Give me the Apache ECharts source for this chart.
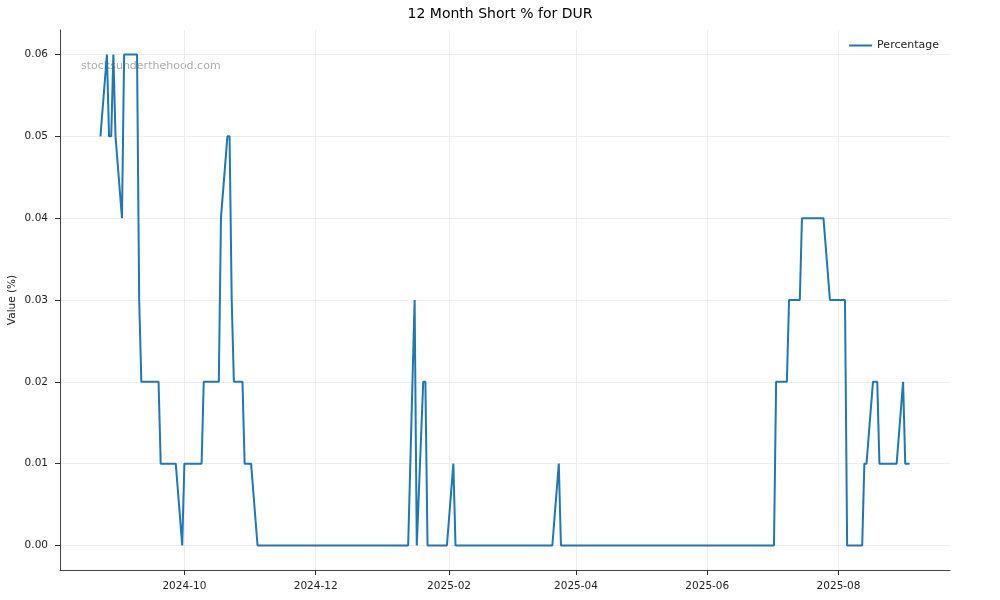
<!DOCTYPE html>
<html>
<head>
<meta charset="utf-8">
<script src="https://cdn.jsdelivr.net/npm/echarts@6/dist/echarts.min.js"></script>
<style>
html,body{margin:0;padding:0;background:#fff;}
#chart{width:1000px;height:600px;}
</style>
</head>
<body>
<div id="chart"></div>
<script>
const dates = ['2024-08-23','2024-08-26','2024-08-27','2024-08-28','2024-08-29','2024-08-30','2024-09-02','2024-09-03','2024-09-09','2024-09-10','2024-09-11','2024-09-19','2024-09-20','2024-09-27','2024-09-30','2024-10-01','2024-10-09','2024-10-10','2024-10-17','2024-10-18','2024-10-21','2024-10-22','2024-10-23','2024-10-24','2024-10-28','2024-10-29','2024-11-01','2024-11-04','2025-01-13','2025-01-16','2025-01-17','2025-01-20','2025-01-21','2025-01-22','2025-01-31','2025-02-03','2025-02-04','2025-03-21','2025-03-24','2025-03-25','2025-07-02','2025-07-03','2025-07-08','2025-07-09','2025-07-14','2025-07-15','2025-07-25','2025-07-28','2025-08-04','2025-08-05','2025-08-12','2025-08-13','2025-08-14','2025-08-17','2025-08-19','2025-08-20','2025-08-28','2025-08-31','2025-09-01','2025-09-03'];
const percentage = [0.05,0.06,0.05,0.05,0.06,0.05,0.04,0.06,0.06,0.03,0.02,0.02,0.01,0.01,0,0.01,0.01,0.02,0.02,0.04,0.05,0.05,0.03,0.02,0.02,0.01,0.01,0,0,0.03,0,0.02,0.02,0,0,0.01,0,0,0.01,0,0,0.02,0.02,0.03,0.03,0.04,0.04,0.03,0.03,0,0,0.01,0.01,0.02,0.02,0.01,0.01,0.02,0.01,0.01];
const xTickLabels = ['2024-10','2024-12','2025-02','2025-04','2025-06','2025-08'];
const yTickValues = [0,0.01,0.02,0.03,0.04,0.05,0.06];

function ts(s){ const p = s.split('-').map(Number); return Date.UTC(p[0], p[1]-1, p[2] || 1); }
const t0 = ts(dates[0]), t1 = ts(dates[dates.length-1]);
const pad = (t1 - t0) * 0.05;
const seriesData = dates.map((d,i)=>[ts(d), percentage[i]]);
const xTicks = xTickLabels.map(ts);

const chart = echarts.init(document.getElementById('chart'), null, {renderer:'canvas'});
const font = 'DejaVu Sans';
chart.setOption({
  animation: false,
  backgroundColor: '#ffffff',
  title: {
    text: '12 Month Short % for DUR',
    left: 'center', top: 2,
    textStyle: {fontFamily: font, fontSize: 14, fontWeight: 'normal', color: '#000'}
  },
  legend: {
    data: ['Percentage'],
    right: 56, top: 35,
    icon: 'rect', itemWidth: 23, itemHeight: 2, itemGap: 8,
    textStyle: {fontFamily: font, fontSize: 11, color: '#222'}
  },
  grid: {left: 60, right: 50, top: 30, bottom: 30, containLabel: false, outerBoundsMode: 'none'},
  xAxis: {
    type: 'value',
    min: t0 - pad, max: t1 + pad,
    axisLine: {show: true, onZero: false, lineStyle: {color: '#444', width: 1}},
    axisTick: {show: true, customValues: xTicks, length: 5, lineStyle: {color: '#333'}},
    axisLabel: {
      customValues: xTicks,
      fontFamily: font, fontSize: 10.5, color: '#222', margin: 11,
      formatter: function(v){ const d = new Date(v); return d.getUTCFullYear() + '-' + String(d.getUTCMonth()+1).padStart(2,'0'); }
    },
    splitLine: {show: true, lineStyle: {color: '#eeeeee', width: 1}}
  },
  yAxis: {
    type: 'value',
    min: -0.003, max: 0.063,
    name: 'Value (%)', nameLocation: 'middle', nameGap: 42, nameMoveOverlap: false,
    nameTextStyle: {fontFamily: font, fontSize: 10.5, color: '#222'},
    axisLine: {show: true, onZero: false, lineStyle: {color: '#444', width: 1}},
    axisTick: {show: true, customValues: yTickValues, length: 5, lineStyle: {color: '#333'}},
    axisLabel: {
      customValues: yTickValues,
      fontFamily: font, fontSize: 10.5, color: '#222', margin: 12,
      formatter: function(v){ return v.toFixed(2); }
    },
    splitLine: {show: true, lineStyle: {color: '#eeeeee', width: 1}}
  },
  graphic: [{
    type: 'text', left: 81, top: 61,
    style: {text: 'stocksunderthehood.com', fontFamily: font, fontSize: 11, fill: 'rgba(128,128,128,0.65)'}
  }],
  series: [{
    name: 'Percentage',
    type: 'line',
    data: seriesData,
    showSymbol: false, symbol: 'none',
    lineStyle: {color: '#1f77b4', width: 2},
    itemStyle: {color: '#1f77b4'}
  }]
});
</script>
</body>
</html>
